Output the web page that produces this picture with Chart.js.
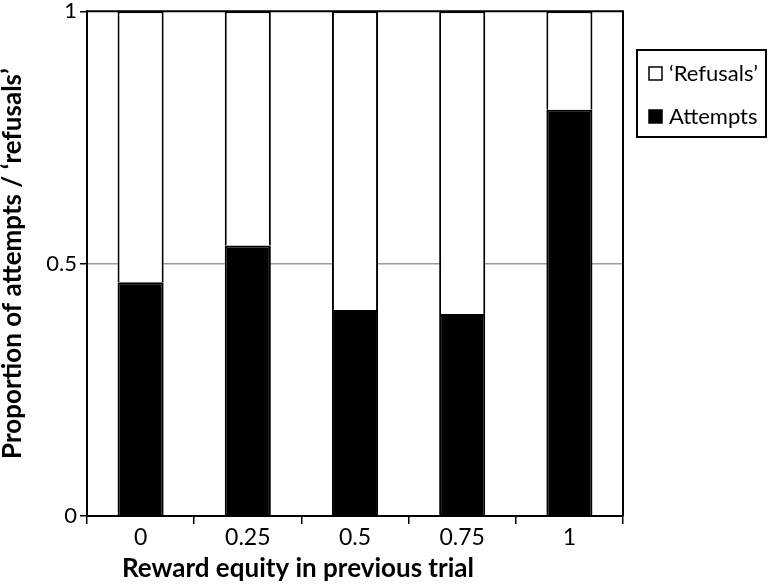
<!DOCTYPE html>
<html>
<head>
<meta charset="utf-8">
<script src="https://cdn.jsdelivr.net/npm/chart.js@4.4.1/dist/chart.umd.min.js"></script>
<style>
html,body{margin:0;padding:0;background:#fff;}
#wrap{width:774px;height:587px;}
</style>
</head>
<body>
<div id="wrap"><canvas id="c" width="774" height="587"></canvas></div>
<script>
const categories = ['0', '0.25', '0.5', '0.75', '1'];
const attempts = [0.463, 0.536, 0.408, 0.400, 0.805];
const refusals = [0.537, 0.464, 0.592, 0.600, 0.195];
const yTicks = [0, 0.5, 1];
const seriesNames = ['Attempts', '\u2018Refusals\u2019'];
const xTitle = 'Reward equity in previous trial';
const yTitle = 'Proportion of attempts / \u2018refusals\u2019';

const FONT = 'Lato, "Open Sans", sans-serif';

const frame = {
  id: 'frame',
  afterDatasetsDraw(chart) {
    const {ctx, chartArea: a} = chart;
    ctx.save();
    ctx.strokeStyle = '#000';
    ctx.lineWidth = 2;
    ctx.beginPath();
    ctx.moveTo(a.left, a.bottom);
    ctx.lineTo(a.left, a.top);
    ctx.lineTo(a.right, a.top);
    ctx.lineTo(a.right, a.bottom);
    ctx.stroke();
    ctx.restore();
  },
  afterDraw(chart) {
    const ctx = chart.ctx;
    const ds = chart.data.datasets;
    const bx = 637, by = 50, bw = 129, bh = 87;
    ctx.save();
    // x-axis title (offset left as in the reference)
    ctx.font = 'bold 26px ' + FONT;
    ctx.textAlign = 'center';
    ctx.textBaseline = 'middle';
    ctx.fillStyle = '#000';
    ctx.fillText(xTitle, 298, 569);
    // legend
    ctx.textAlign = 'left';
    ctx.strokeStyle = '#000';
    ctx.lineWidth = 2;
    ctx.strokeRect(bx, by, bw, bh);
    ctx.font = '22px ' + FONT;
    const order = [1, 0];
    order.forEach((di, i) => {
      const cy = by + 23 + i * 43;
      ctx.fillStyle = ds[di].backgroundColor;
      ctx.fillRect(649, cy - 6, 13, 13);
      ctx.lineWidth = 1.5;
      ctx.strokeStyle = '#000';
      ctx.strokeRect(649, cy - 6, 13, 13);
      ctx.fillStyle = '#000';
      ctx.fillText(ds[di].label, 669, cy + 1);
    });
    ctx.restore();
  }
};

new Chart(document.getElementById('c'), {
  type: 'bar',
  data: {
    labels: categories,
    datasets: [
      {label: seriesNames[0], data: attempts, backgroundColor: '#000', borderColor: '#000', borderWidth: 2,
       barPercentage: 0.43, categoryPercentage: 1},
      {label: seriesNames[1], data: refusals, backgroundColor: '#fff', borderColor: '#000', borderWidth: 2,
       barPercentage: 0.43, categoryPercentage: 1}
    ]
  },
  options: {
    responsive: false,
    animation: false,
    devicePixelRatio: 1,
    layout: {padding: {top: 9, right: 151, left: 0, bottom: 0}},
    plugins: {legend: {display: false}, tooltip: {enabled: false}},
    scales: {
      x: {
        stacked: true,
        offset: true,
        grid: {display: true, offset: true, drawOnChartArea: false, drawTicks: true, tickLength: 8, color: '#000', lineWidth: 1.5},
        border: {display: true, color: '#000', width: 2},
        ticks: {color: '#000', font: {family: FONT, size: 23, lineHeight: 1.0}, padding: 2},
        title: {display: false, text: xTitle},
        afterFit(s) { s.height = 71; }
      },
      y: {
        stacked: true,
        min: 0, max: 1,
        afterBuildTicks(s) { s.ticks = yTicks.map(v => ({value: v})); },
        grid: {
          drawTicks: true, tickLength: 7, tickColor: '#000', tickWidth: 1.5,
          color: (c) => c.tick && c.tick.value === 0.5 ? '#9a9a9a' : 'rgba(0,0,0,0)',
          lineWidth: 1.5
        },
        border: {display: true, color: '#000', width: 2},
        ticks: {color: '#000', font: {family: FONT, size: 22, lineHeight: 0.75}, padding: 3,
                callback: (v) => String(v)},
        title: {display: true, text: yTitle, color: '#000', font: {family: FONT, size: 26, weight: 'bold', lineHeight: 1.0}, padding: {top: 0, bottom: 4}},
        afterFit(s) { s.width = 87; }
      }
    }
  },
  plugins: [frame]
});
</script>
</body>
</html>
